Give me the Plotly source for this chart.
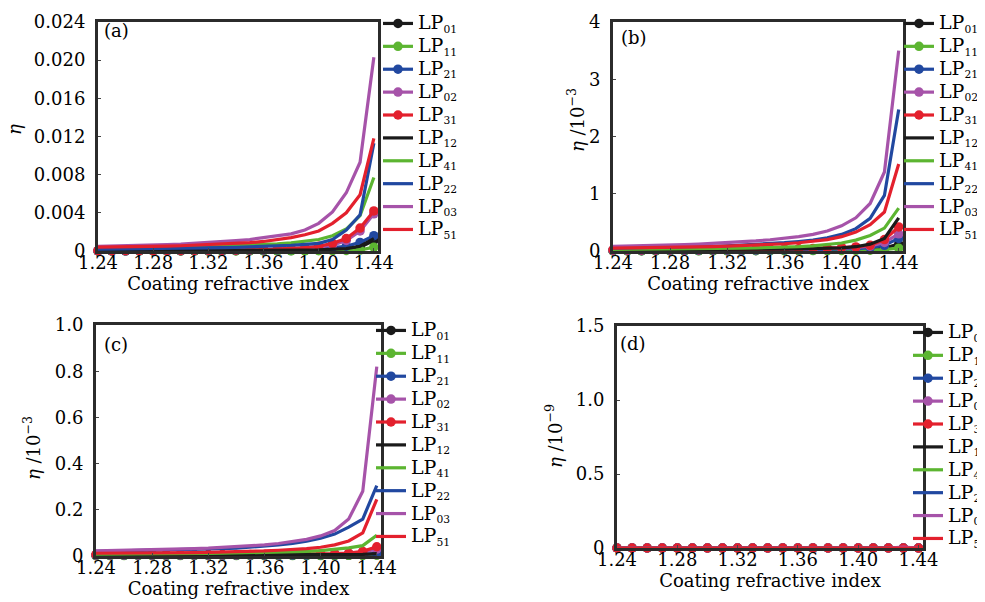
import plotly.graph_objects as go

x_vals = [1.24, 1.25, 1.26, 1.27, 1.28, 1.29, 1.30, 1.31, 1.32, 1.33, 1.34,
          1.35, 1.36, 1.37, 1.38, 1.39, 1.40, 1.41, 1.42, 1.43, 1.44]

mode_subs = ["01", "11", "21", "02", "31", "12", "41", "22", "03", "51"]

# Panel (a): eta
a_LP01 = [0.00001, 0.00001, 0.00001, 0.00001, 0.00001, 0.00001, 0.00001, 0.00002, 0.00002, 0.00002, 0.00003,
          0.00003, 0.00004, 0.00005, 0.00006, 0.00008, 0.0001, 0.00014, 0.0002, 0.0004, 0.0011]
a_LP11 = [0.0, 0.0, 0.0, 0.0, 0.0, 0.0, 0.0, 0.0, 0.0, 0.0, 0.00001,
          0.00001, 0.00001, 0.00001, 0.00002, 0.00002, 0.00003, 0.00004, 0.00006, 0.0001, 0.0004]
a_LP21 = [0.00002, 0.00002, 0.00002, 0.00003, 0.00003, 0.00003, 0.00004, 0.00004, 0.00005, 0.00006, 0.00007,
          0.00008, 0.0001, 0.00012, 0.00015, 0.0002, 0.00026, 0.00035, 0.0005, 0.0009, 0.0016]
a_LP02 = [0.00003, 0.00003, 0.00003, 0.00004, 0.00004, 0.00005, 0.00005, 0.00006, 0.00007, 0.00008, 0.00009,
          0.0001, 0.00012, 0.00015, 0.0002, 0.00027, 0.0004, 0.0006, 0.0011, 0.0021, 0.0039]
a_LP31 = [0.00004, 0.00004, 0.00004, 0.00005, 0.00005, 0.00006, 0.00006, 0.00007, 0.00008, 0.00009, 0.0001,
          0.00012, 0.00015, 0.00019, 0.00025, 0.00035, 0.0005, 0.0008, 0.0013, 0.0024, 0.0042]
a_LP12 = [0.00002, 0.00002, 0.00002, 0.00002, 0.00003, 0.00003, 0.00003, 0.00003, 0.00004, 0.00004, 0.00005,
          0.00005, 0.00006, 0.00007, 0.00008, 0.0001, 0.00012, 0.00016, 0.00025, 0.0005, 0.0013]
a_LP41 = [0.0003, 0.00031, 0.00033, 0.00035, 0.00037, 0.0004, 0.00042, 0.00045, 0.00048, 0.00052, 0.00056,
          0.00061, 0.00067, 0.00075, 0.00085, 0.001, 0.0012, 0.0016, 0.0023, 0.0037, 0.0077]
a_LP22 = [0.0002, 0.00021, 0.00022, 0.00023, 0.00024, 0.00026, 0.00028, 0.0003, 0.00032, 0.00035, 0.00038,
          0.00042, 0.00047, 0.00053, 0.0006, 0.0007, 0.0008, 0.0012, 0.0022, 0.0038, 0.0113]
a_LP03 = [0.0005, 0.00052, 0.00055, 0.00059, 0.00063, 0.00068, 0.00073, 0.0008, 0.00088, 0.00097, 0.00108,
          0.0012, 0.0014, 0.0016, 0.0018, 0.0022, 0.0029, 0.0041, 0.0061, 0.0093, 0.0203]
a_LP51 = [0.0004, 0.00041, 0.00043, 0.00045, 0.00048, 0.00051, 0.00055, 0.0006, 0.00065, 0.00071, 0.00078,
          0.00087, 0.001, 0.0012, 0.0014, 0.0017, 0.0021, 0.0029, 0.004, 0.0059, 0.0118]

# Panel (b): eta / 1e-3
b_LP01 = [0.005, 0.005, 0.005, 0.006, 0.006, 0.006, 0.007, 0.007, 0.008, 0.008, 0.009,
          0.01, 0.011, 0.012, 0.014, 0.016, 0.019, 0.024, 0.032, 0.05, 0.12]
b_LP11 = [0.003, 0.003, 0.003, 0.003, 0.003, 0.004, 0.004, 0.004, 0.004, 0.005, 0.005,
          0.005, 0.006, 0.006, 0.007, 0.008, 0.009, 0.011, 0.015, 0.025, 0.05]
b_LP21 = [0.01, 0.01, 0.01, 0.011, 0.011, 0.012, 0.012, 0.013, 0.014, 0.015, 0.016,
          0.017, 0.019, 0.021, 0.024, 0.028, 0.034, 0.043, 0.06, 0.1, 0.22]
b_LP02 = [0.015, 0.015, 0.016, 0.016, 0.017, 0.018, 0.019, 0.02, 0.021, 0.022, 0.024,
          0.026, 0.029, 0.032, 0.036, 0.042, 0.05, 0.062, 0.085, 0.15, 0.3]
b_LP31 = [0.02, 0.02, 0.021, 0.021, 0.022, 0.023, 0.024, 0.025, 0.026, 0.028, 0.03,
          0.032, 0.035, 0.039, 0.044, 0.05, 0.058, 0.072, 0.1, 0.2, 0.42]
b_LP12 = [0.02, 0.02, 0.021, 0.021, 0.022, 0.023, 0.024, 0.025, 0.026, 0.027, 0.029,
          0.031, 0.033, 0.036, 0.04, 0.045, 0.055, 0.075, 0.12, 0.22, 0.58]
b_LP41 = [0.03, 0.031, 0.033, 0.035, 0.037, 0.039, 0.041, 0.044, 0.047, 0.051, 0.056,
          0.061, 0.068, 0.077, 0.09, 0.11, 0.14, 0.19, 0.27, 0.4, 0.75]
b_LP22 = [0.05, 0.053, 0.056, 0.06, 0.065, 0.07, 0.076, 0.083, 0.092, 0.102, 0.114,
          0.128, 0.145, 0.165, 0.19, 0.23, 0.29, 0.39, 0.57, 0.97, 2.47]
b_LP03 = [0.08, 0.084, 0.089, 0.095, 0.102, 0.11, 0.119, 0.13, 0.143, 0.158, 0.176,
          0.197, 0.222, 0.252, 0.29, 0.35, 0.44, 0.58, 0.83, 1.38, 3.5]
b_LP51 = [0.05, 0.052, 0.055, 0.058, 0.062, 0.066, 0.071, 0.077, 0.084, 0.092, 0.102,
          0.113, 0.127, 0.144, 0.165, 0.2, 0.25, 0.33, 0.46, 0.68, 1.52]

# Panel (c): eta / 1e-3
c_LP01 = [0.003, 0.003, 0.003, 0.003, 0.003, 0.003, 0.003, 0.003, 0.003, 0.003, 0.003,
          0.003, 0.003, 0.003, 0.003, 0.003, 0.003, 0.003, 0.003, 0.004, 0.005]
c_LP11 = [0.002, 0.002, 0.002, 0.002, 0.002, 0.002, 0.002, 0.002, 0.002, 0.002, 0.002,
          0.002, 0.002, 0.002, 0.002, 0.002, 0.002, 0.002, 0.003, 0.003, 0.004]
c_LP21 = [0.004, 0.004, 0.004, 0.004, 0.004, 0.004, 0.004, 0.004, 0.004, 0.004, 0.004,
          0.004, 0.004, 0.004, 0.004, 0.004, 0.005, 0.005, 0.006, 0.007, 0.01]
c_LP02 = [0.005, 0.005, 0.005, 0.005, 0.005, 0.005, 0.005, 0.005, 0.005, 0.005, 0.005,
          0.005, 0.006, 0.006, 0.006, 0.007, 0.007, 0.008, 0.01, 0.015, 0.03]
c_LP31 = [0.006, 0.006, 0.006, 0.006, 0.006, 0.006, 0.006, 0.006, 0.006, 0.006, 0.006,
          0.007, 0.007, 0.007, 0.008, 0.008, 0.009, 0.01, 0.013, 0.02, 0.04]
c_LP12 = [0.004, 0.004, 0.004, 0.004, 0.004, 0.004, 0.004, 0.004, 0.004, 0.004, 0.004,
          0.004, 0.004, 0.004, 0.005, 0.005, 0.005, 0.005, 0.006, 0.007, 0.01]
c_LP41 = [0.008, 0.008, 0.009, 0.009, 0.009, 0.01, 0.01, 0.011, 0.011, 0.012, 0.013,
          0.014, 0.015, 0.016, 0.018, 0.02, 0.023, 0.028, 0.035, 0.045, 0.09]
c_LP22 = [0.02, 0.021, 0.022, 0.023, 0.024, 0.025, 0.026, 0.028, 0.03, 0.032, 0.034,
          0.038, 0.043, 0.048, 0.055, 0.064, 0.077, 0.095, 0.125, 0.16, 0.305]
c_LP03 = [0.022, 0.023, 0.024, 0.025, 0.027, 0.028, 0.03, 0.032, 0.034, 0.037, 0.04,
          0.044, 0.048, 0.054, 0.062, 0.072, 0.087, 0.11, 0.16, 0.28, 0.82]
c_LP51 = [0.012, 0.012, 0.013, 0.013, 0.014, 0.014, 0.015, 0.015, 0.016, 0.017, 0.018,
          0.02, 0.022, 0.025, 0.028, 0.032, 0.038, 0.048, 0.065, 0.1, 0.245]

# Panel (d): eta / 1e-9
d_LP01 = [0, 0, 0, 0, 0, 0, 0, 0, 0, 0, 0, 0, 0, 0, 0, 0, 0, 0, 0, 0, 0]
d_LP11 = [0, 0, 0, 0, 0, 0, 0, 0, 0, 0, 0, 0, 0, 0, 0, 0, 0, 0, 0, 0, 0]
d_LP21 = [0, 0, 0, 0, 0, 0, 0, 0, 0, 0, 0, 0, 0, 0, 0, 0, 0, 0, 0, 0, 0]
d_LP02 = [0, 0, 0, 0, 0, 0, 0, 0, 0, 0, 0, 0, 0, 0, 0, 0, 0, 0, 0, 0, 0]
d_LP31 = [0, 0, 0, 0, 0, 0, 0, 0, 0, 0, 0, 0, 0, 0, 0, 0, 0, 0, 0, 0, 0]
d_LP12 = [0, 0, 0, 0, 0, 0, 0, 0, 0, 0, 0, 0, 0, 0, 0, 0, 0, 0, 0, 0, 0]
d_LP41 = [0, 0, 0, 0, 0, 0, 0, 0, 0, 0, 0, 0, 0, 0, 0, 0, 0, 0, 0, 0, 0]
d_LP22 = [0, 0, 0, 0, 0, 0, 0, 0, 0, 0, 0, 0, 0, 0, 0, 0, 0, 0, 0, 0, 0]
d_LP03 = [0, 0, 0, 0, 0, 0, 0, 0, 0, 0, 0, 0, 0, 0, 0, 0, 0, 0, 0, 0.006, 0]
d_LP51 = [0, 0, 0, 0, 0, 0, 0, 0, 0, 0, 0, 0, 0, 0, 0, 0, 0, 0, 0, 0, 0]

panels = [
    [a_LP01, a_LP11, a_LP21, a_LP02, a_LP31, a_LP12, a_LP41, a_LP22, a_LP03, a_LP51],
    [b_LP01, b_LP11, b_LP21, b_LP02, b_LP31, b_LP12, b_LP41, b_LP22, b_LP03, b_LP51],
    [c_LP01, c_LP11, c_LP21, c_LP02, c_LP31, c_LP12, c_LP41, c_LP22, c_LP03, c_LP51],
    [d_LP01, d_LP11, d_LP21, d_LP02, d_LP31, d_LP12, d_LP41, d_LP22, d_LP03, d_LP51],
]

x_ticks = [1.24, 1.28, 1.32, 1.36, 1.40, 1.44]
x_ticktext = ["1.24", "1.28", "1.32", "1.36", "1.40", "1.44"]
y_ticks = [[0, 0.004, 0.008, 0.012, 0.016, 0.020, 0.024], [0, 1, 2, 3, 4],
           [0, 0.2, 0.4, 0.6, 0.8, 1.0], [0, 0.5, 1.0, 1.5]]
y_ticktext = [["0", "0.004", "0.008", "0.012", "0.016", "0.020", "0.024"], ["0", "1", "2", "3", "4"],
              ["0", "0.2", "0.4", "0.6", "0.8", "1.0"], ["0", "0.5", "1.0", "1.5"]]
y_titles = ["<i>η</i>", "<i>η</i> /10<sup>−3</sup>", "<i>η</i> /10<sup>−3</sup>", "<i>η</i> /10<sup>−9</sup>"]
panel_labels = ["(a)", "(b)", "(c)", "(d)"]

colors = ["#1a1a1a", "#5cb531", "#2148a0", "#a653a9", "#e3202d"] * 2
W, H = 985, 602
FONT = "DejaVu Serif"

# pixel boxes: left, right, top, bottom
boxes = [(90, 370, 14, 243), (605, 895, 14, 243), (88, 373, 317, 548), (609, 915, 318, 540)]
legend_pos = [(370, -1), (891, -1), (363, 306), (900, 308)]
ytitle_pos = [(6, 122), (568, 112), (24, 440), (546, 428)]
label_pos = [(94, 22), (611, 30), (94, 337), (610, 335)]

fig = go.Figure()
for p in range(4):
    xa = "x" if p == 0 else f"x{p+1}"
    ya = "y" if p == 0 else f"y{p+1}"
    lg = "legend" if p == 0 else f"legend{p+1}"
    for i in range(10):
        with_markers = i < 5
        fig.add_trace(go.Scatter(
            x=x_vals, y=panels[p][i],
            name="<span style='font-size:19px'>LP</span><sub>" + mode_subs[i] + "</sub>",
            mode="lines+markers" if with_markers else "lines",
            line=dict(color=colors[i], width=3.2),
            marker=dict(size=9.5, color=colors[i]),
            xaxis=xa, yaxis=ya, legend=lg, cliponaxis=False,
        ))

layout = dict(width=W, height=H, margin=dict(l=0, r=0, t=0, b=0, autoexpand=False),
              paper_bgcolor="white", plot_bgcolor="white", showlegend=True,
              font=dict(family=FONT, size=17, color="black"))
annotations = []
for p in range(4):
    l, r, t, b = boxes[p]
    sx = "" if p == 0 else str(p + 1)
    layout["xaxis" + sx] = dict(
        domain=[l / W, r / W], anchor="y" + sx, range=[1.24, 1.443], automargin=False,
        tickvals=x_ticks, ticktext=x_ticktext, ticks="inside", ticklen=3, ticklabelstandoff=-7,
        showline=True, linewidth=3, linecolor="#2b2b2b", mirror=True, showgrid=False,
        zeroline=False, tickfont=dict(family=FONT, size=18, color="black"),
        title=dict(text="Coating refractive index", font=dict(family=FONT, size=18, color="black"), standoff=2),
    )
    layout["yaxis" + sx] = dict(
        domain=[1 - b / H, 1 - t / H], anchor="x" + sx, range=[0, y_ticks[p][-1]], automargin=False,
        tickvals=y_ticks[p], ticktext=y_ticktext[p], ticks="inside", ticklen=3, ticklabelstandoff=6,
        showline=True, linewidth=3, linecolor="#2b2b2b", mirror=True, showgrid=False,
        zeroline=False, tickfont=dict(family=FONT, size=18, color="black"),
    )
    lx, ly = legend_pos[p]
    layout["legend" if p == 0 else f"legend{p+1}"] = dict(
        x=lx / W, y=1 - ly / H, xanchor="left", yanchor="top",
        bgcolor="rgba(0,0,0,0)", font=dict(family=FONT, size=15.3, color="black"),
        itemwidth=30, tracegroupgap=0,
    )
    tx, ty = ytitle_pos[p]
    annotations.append(dict(text=y_titles[p], xref="paper", yref="paper", x=tx / W, y=1 - ty / H,
                            xanchor="center", yanchor="middle", textangle=-90, showarrow=False,
                            font=dict(family=FONT, size=18, color="black")))
    px, py = label_pos[p]
    annotations.append(dict(text=panel_labels[p], xref="paper", yref="paper", x=px / W, y=1 - py / H,
                            xanchor="left", yanchor="middle", showarrow=False,
                            font=dict(family=FONT, size=18, color="black")))
layout["annotations"] = annotations
fig.update_layout(**layout)
fig.write_html("out.html")
